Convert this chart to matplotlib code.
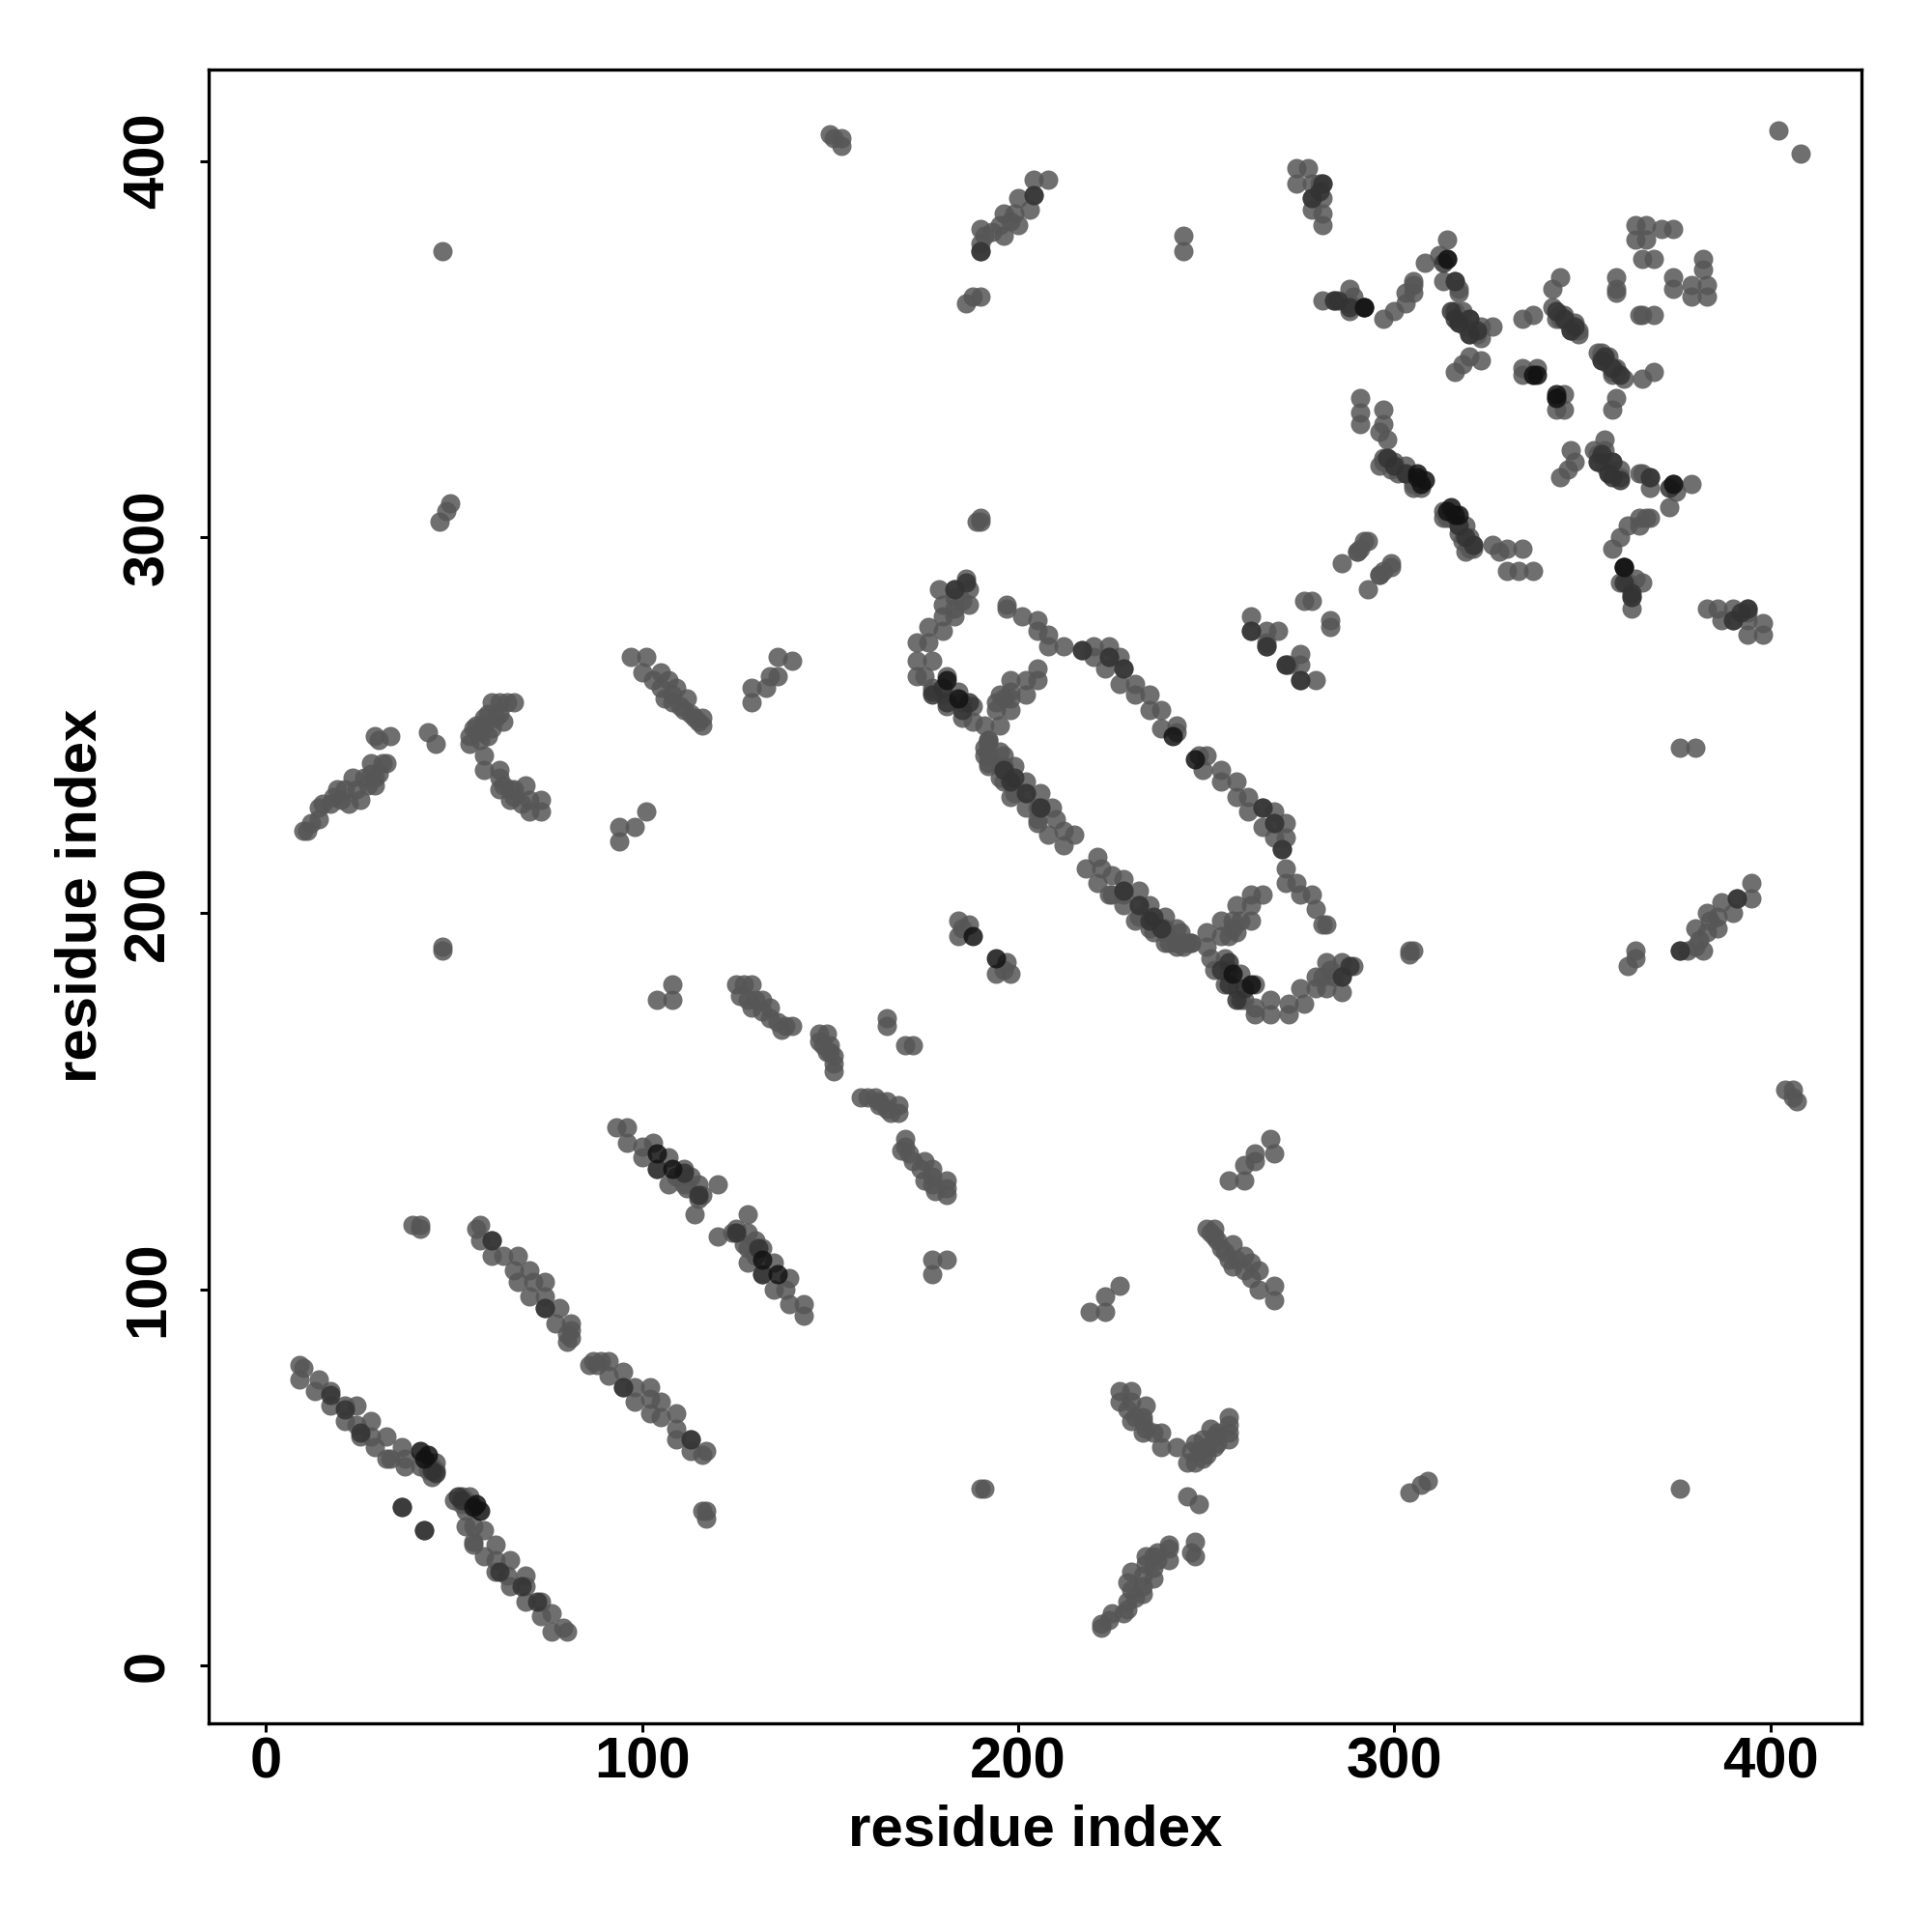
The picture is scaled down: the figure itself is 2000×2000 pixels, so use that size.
import numpy as np
import matplotlib
matplotlib.use("Agg")
import matplotlib.pyplot as plt

plt.rcParams["font.family"] = ["Liberation Sans", "DejaVu Sans"]

# contacts, upper triangle only (the map is symmetric)
strand_a = [(9, 80), (10, 79), (9, 76), (14, 76), (13, 73), (17, 73), (17, 69), (21, 69), (24, 69),
            (21, 65), (24, 64), (28, 65), (25, 61), (28, 61), (32, 61), (29, 58), (33, 55), (32, 55),
            (36, 58), (37, 55), (37, 53), (41, 53), (45, 54), (44, 50), (45, 52), (43, 52), (44, 53), (43, 54), (36, 42)]
strand_b = [(57, 117), (56, 116), (57, 113), (60, 113), (60, 109), (63, 109), (67, 109), (66, 105), (70, 105),
            (67, 102), (71, 102), (74, 102), (70, 98), (74, 98), (74, 95), (78, 95), (77, 91), (81, 91), (81, 87),
            (80, 86), (81, 89), (80, 88), (39, 117), (41, 117), (41, 116)]
strand_c = [(93, 143), (96, 143), (96, 139), (100, 138), (103, 139), (100, 135), (107, 135),
            (104, 132), (111, 132), (107, 128), (111, 128), (115, 128), (115, 124),
            (113, 130), (109, 130), (114, 120), (120, 128), (116, 125), (112, 127)]
strand_d = [(125, 181), (127, 181), (129, 181), (126, 178), (128, 177), (130, 177), (132, 177), (129, 175), (132, 174), (134, 175),
            (134, 172), (136, 171), (138, 170), (140, 170), (137, 169), (147, 168), (149, 168), (147, 166), (148, 165), (150, 165),
            (150, 163), (151, 162), (151, 160), (151, 158), (149, 163), (165, 172), (165, 170), (104, 177), (108, 181), (108, 177)]
patch_near_220 = [(94, 223), (94, 219), (98, 223), (101, 227), (10, 222), (11, 222), (12, 224), (14, 228), (14, 225), (15, 229),
                  (17, 229), (18, 231), (19, 233), (20, 230), (21, 233), (22, 229), (23, 236), (24, 233), (25, 230), (26, 236),
                  (27, 234), (28, 237), (28, 240), (30, 237), (31, 240), (29, 234), (32, 240), (29, 247), (33, 247), (30, 246),
                  (43, 248), (45, 245), (29, 236)]
patch_near_250 = [(54, 247), (54, 245), (55, 249), (56, 250), (57, 248), (58, 250), (58, 252), (59, 253), (60, 256), (62, 256),
                  (60, 249), (62, 253), (64, 256), (66, 256), (59, 247), (57, 246), (61, 252), (63, 251), (58, 242), (58, 238),
                  (62, 238), (62, 233), (65, 233), (65, 230), (69, 234), (70, 230), (70, 227), (73, 230), (73, 227), (62, 236),
                  (63, 234), (66, 231), (68, 229), (66, 233)]
patch_near_260 = [(97, 268), (101, 268), (100, 264), (105, 264), (105, 260), (109, 260), (108, 256), (112, 257), (114, 252), (116, 252),
                  (107, 262), (108, 258), (111, 254), (113, 253), (115, 251), (116, 250), (103, 262), (110, 255), (106, 257),
                  (129, 256), (129, 260), (133, 260), (136, 263), (136, 268), (140, 267), (134, 263)]
ring_corner = [(186, 289), (183, 286), (179, 286), (187, 286), (187, 282), (183, 284), (180, 282), (183, 279),
               (180, 279), (183, 281), (185, 283), (176, 276), (180, 275), (173, 272), (176, 272), (173, 267), (177, 267), (173, 263),
               (181, 263), (175, 263), (177, 259), (177, 260), (180, 258), (184, 259), (181, 255),
               (185, 256), (188, 255), (185, 252), (188, 251), (191, 250)]
ring_lower = [(192, 246), (191, 244), (191, 242), (192, 240), (195, 243), (195, 239), (199, 239), (195, 236), (198, 235),
              (199, 232), (202, 235), (202, 232), (206, 232), (202, 228), (205, 228), (209, 228), (205, 225), (210, 225),
              (208, 221), (212, 218), (212, 222), (215, 221), (205, 224), (206, 228),
              (198, 231), (196, 235), (196, 239), (196, 242), (192, 239), (192, 242), (192, 245), (192, 246)]
ring_branch = [(205, 265), (198, 262), (202, 262), (205, 262), (198, 259), (195, 258), (202, 258), (198, 254), (194, 254),
               (195, 250), (194, 256), (196, 257), (198, 257)]
ring_upper = [(197, 282), (197, 281), (201, 279), (205, 278), (205, 275), (208, 274), (208, 271), (212, 271), (217, 270),
              (220, 271), (220, 268), (224, 271), (224, 268), (223, 265), (227, 268), (228, 265), (227, 261),
              (231, 261), (231, 258), (235, 258), (235, 254), (238, 254), (238, 249), (242, 250), (242, 248)]
loop_patch = [(262, 279), (262, 275), (266, 275), (269, 275), (266, 272), (266, 271), (276, 283), (278, 283),
              (286, 293), (290, 296), (291, 297), (292, 299), (293, 299), (290, 296)]
isolated = [(47, 190), (47, 191), (47, 376), (46, 304), (48, 307), (49, 309), (189, 304), (190, 304), (190, 305), (244, 380), (244, 376),
            (402, 408), (184, 198), (187, 197), (184, 194), (185, 196), (150, 407), (153, 406), (153, 404),
            (151, 406), (186, 362), (188, 364), (190, 364)]
top_patch = [(190, 382), (190, 376), (190, 378), (191, 380), (195, 383), (196, 380), (199, 386), (196, 386), (200, 383), (203, 387),
             (200, 390), (204, 391), (204, 395), (208, 395), (198, 384), (193, 381)]
right_upper = [(281, 383), (281, 386), (278, 387), (278, 390), (281, 390), (278, 394), (281, 394), (280, 394), (274, 394), (274, 398),
               (277, 398), (281, 363), (284, 363), (288, 366), (289, 364), (288, 360), (292, 361), (288, 362),
               (297, 358), (300, 360), (303, 362), (303, 365), (305, 365), (305, 368), (305, 367), (308, 373), (312, 375), (314, 379), (314, 374),
               (316, 368), (313, 368), (317, 365), (317, 366)]
right_mid = [(316, 360), (318, 360), (317, 357), (320, 358), (323, 356), (326, 356), (323, 353), (320, 354), (319, 356),
             (322, 354), (316, 344), (318, 346), (320, 348), (323, 347), (334, 358), (337, 359), (334, 345), (334, 343), (338, 345), (337, 343),
             (342, 366), (344, 369), (342, 361), (344, 359), (345, 358), (346, 357), (348, 357), (349, 355), (343, 358),
             (347, 355), (345, 359), (344, 358), (348, 355), (354, 349)]
right_top = [(359, 369), (359, 366), (359, 365), (364, 383), (367, 383), (371, 382), (374, 382), (364, 379), (367, 379), (366, 374), (369, 374)]
chain_300 = [(291, 337), (291, 333), (291, 330), (297, 334), (297, 330), (296, 328), (298, 326), (297, 321), (297, 320), (300, 320), (299, 318),
             (303, 319), (303, 317), (305, 315), (307, 313), (298, 321), (296, 319), (301, 317), (305, 314), (305, 313)]

# darker contacts, drawn on top of the plain grey ones
mid_contacts = [(17, 72), (25, 62), (21, 68), (44, 52), (45, 51), (36, 42), (60, 113), (74, 95), (104, 132), (111, 131),
                (115, 125), (180, 260), (177, 258), (185, 254), (187, 256), (181, 256), (186, 288), (183, 286), (202, 232), (198, 235), (206, 228),
                (196, 238), (199, 236), (224, 268), (228, 265), (217, 270), (262, 275), (266, 271), (280, 392), (278, 390), (281, 394),
                (190, 376), (204, 391), (284, 363), (288, 361), (315, 360), (317, 357), (316, 358), (322, 355), (345, 358), (347, 355), (343, 360),
                (348, 356), (316, 368), (313, 373), (298, 321), (300, 319), (303, 317), (320, 354), (320, 358), (285, 363), (292, 361)]
dark_contacts = [(41, 57), (43, 56), (42, 55), (104, 136), (108, 132), (188, 194), (181, 262), (184, 257), (241, 247),
                 (306, 317), (308, 315), (307, 314), (306, 316), (314, 374), (292, 361), (337, 343), (343, 338)]

tick_values = [0, 100, 200, 300, 400]

blocks = [strand_a, strand_b, strand_c, strand_d, patch_near_220, patch_near_250, patch_near_260,
          ring_corner, ring_lower, ring_branch, ring_upper, loop_patch, isolated, top_patch,
          right_upper, right_mid, right_top, chain_300]
contacts = np.array([p for b in blocks for p in b], dtype=float)
mid = np.array(mid_contacts, dtype=float)
dark = np.array(dark_contacts, dtype=float)

fig = plt.figure(figsize=(10, 10), dpi=200)
ax = fig.add_axes([216 / 2000, 1 - 1784 / 2000, (1927 - 216) / 2000, (1784 - 71.5) / 2000])

# each contact i,j also appears as j,i
for col_x, col_y in ((0, 1), (1, 0)):
    ax.scatter(contacts[:, col_x], contacts[:, col_y], s=52, c="#565656", alpha=0.85, linewidths=0, zorder=2)
    ax.scatter(mid[:, col_x], mid[:, col_y], s=52, c="#333333", alpha=0.85, linewidths=0, zorder=3)
    ax.scatter(dark[:, col_x], dark[:, col_y], s=52, c="#121212", alpha=0.85, linewidths=0, zorder=4)

ax.set_xlim(-15.26, 424.2)
ax.set_ylim(-15.4, 424.4)
ax.set_xticks(tick_values)
ax.set_yticks(tick_values)
ax.tick_params(axis="both", length=3.4, width=1.1, labelsize=21.5)
ax.tick_params(axis="x", pad=1.5)
ax.tick_params(axis="y", pad=9)
for lab in ax.get_xticklabels() + ax.get_yticklabels():
    lab.set_fontweight("bold")
for lab in ax.get_yticklabels():
    lab.set_rotation(90)
    lab.set_va("center")
for s in ax.spines.values():
    s.set_linewidth(1.2)

ax.set_xlabel("residue index", fontsize=21.6, fontweight="bold", labelpad=5.3)
ax.set_ylabel("residue index", fontsize=21.6, fontweight="bold", labelpad=5.5)

fig.savefig("out.png", dpi=200)
